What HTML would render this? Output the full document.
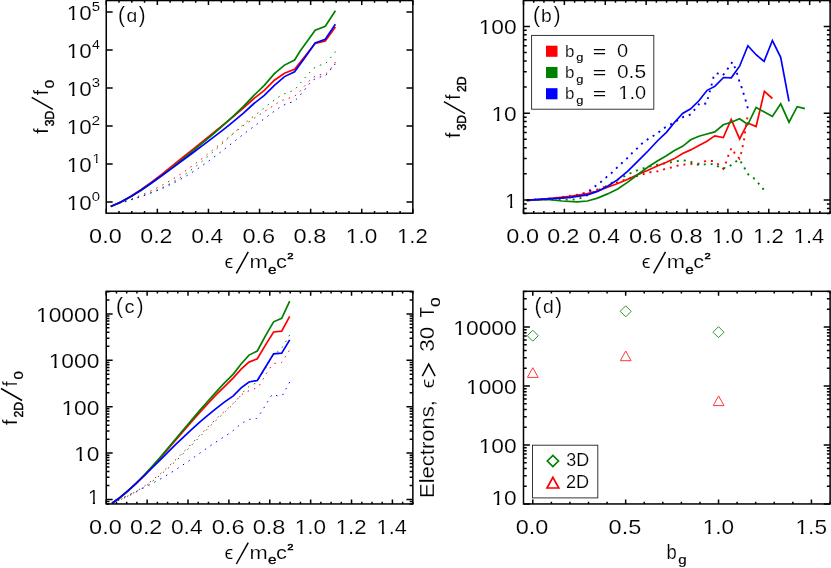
<!DOCTYPE html>
<html><head><meta charset="utf-8"><title>plot</title>
<style>html,body{margin:0;padding:0;background:#fff}svg{display:block;will-change:transform}text{font-family:"Liberation Sans", sans-serif;fill:#000}</style></head><body>
<svg width="831" height="568" viewBox="0 0 831 568">
<rect width="831" height="568" fill="#fff"/>
<g id="pa">
<polyline points="111,206.3 121.33,202.7 131.66,198.99 141.99,194.9 152.31,190.28 162.64,185.01 172.97,179.03 183.3,172.33 193.63,164.98 203.96,157.09 214.29,148.81 224.61,140.39 234.94,132.1 245.27,124.27 255.6,117.3 267.1,109.8 278.7,102.2 285.2,99 292.4,97.3 297.9,93.9 307.1,83.1 312.3,78 318,74.7 324.8,74.7 329.6,70.3 334.4,63.5 335.4,62" fill="none" stroke="#ff0000" stroke-width="1" stroke-dasharray="1.5 5.2" stroke-linejoin="miter" stroke-linecap="butt" stroke-dashoffset="4.92"/>
<polyline points="111,206.3 120.88,202.82 130.76,199.65 140.64,196.4 150.52,192.77 160.4,188.52 170.28,183.49 180.16,177.58 190.04,170.79 199.92,163.17 209.8,154.84 219.68,146 229.56,136.92 239.44,127.94 249.32,119.49 259.2,112 270,103.3 281.6,94.9 294.6,89.9 304,78.8 313.4,68.4 319.1,65.5 325.7,63.5 330,58.5 334.7,52.7 335.4,51.5" fill="none" stroke="#008000" stroke-width="1" stroke-dasharray="1.5 5.2" stroke-linejoin="miter" stroke-linecap="butt" stroke-dashoffset="5.53"/>
<polyline points="111,206.3 121.54,202.85 132.07,199.54 142.61,196.07 153.14,192.22 163.68,187.81 174.21,182.72 184.75,176.91 195.29,170.37 205.82,163.15 216.36,155.38 226.89,147.23 237.43,138.93 247.96,130.77 258.5,123.1 269.3,114.9 280.9,106.5 287.4,103.3 293.9,101.6 298.9,96.8 307.6,86 312.6,80.2 318.4,77.3 325.3,76.1 329.6,70.8 334.4,65 335.4,63.8" fill="none" stroke="#0000ff" stroke-width="1" stroke-dasharray="1.5 5.2" stroke-linejoin="miter" stroke-linecap="butt" stroke-dashoffset="5.55"/>
<polyline points="110.7,206.5 120.89,202.06 131.09,196.3 141.28,189.56 151.47,182.15 161.66,174.3 171.86,166.2 182.05,158.01 192.24,149.8 202.44,141.63 212.63,133.47 222.82,125.27 233.01,116.91 243.21,108.23 253.4,99 264.3,90.3 274.4,80.2 284.5,73.3 294.6,69.4 305,56.3 315.2,43.3 325.3,40.9 335.4,27.1" fill="none" stroke="#ff0000" stroke-width="1.7" stroke-linejoin="miter" stroke-linecap="butt"/>
<polyline points="110.7,206.5 120.89,202.15 131.09,196.64 141.28,190.23 151.47,183.18 161.66,175.66 171.86,167.82 182.05,159.75 192.24,151.52 202.44,143.13 212.63,134.54 222.82,125.67 233.01,116.39 243.21,106.54 253.4,95.9 264.3,85.3 274.4,73.7 284.5,65.1 294.6,60 300,51.3 315.2,30.3 325.3,26.3 335.4,10.8" fill="none" stroke="#008000" stroke-width="1.7" stroke-linejoin="miter" stroke-linecap="butt"/>
<polyline points="110.7,206.5 120.89,201.93 131.09,196.31 141.28,189.93 151.47,183.01 161.66,175.77 171.86,168.33 182.05,160.8 192.24,153.22 202.44,145.61 212.63,137.93 222.82,130.08 233.01,121.93 243.21,113.31 253.4,104 264.3,95.4 274.4,85.3 284.5,76.6 294.6,71.8 305,57.5 315.2,43 325.3,39.3 335.4,24.3" fill="none" stroke="#0000ff" stroke-width="1.7" stroke-linejoin="miter" stroke-linecap="butt"/>
<rect x="106.25" y="0.55" width="306.6" height="212.65" fill="none" stroke="#000" stroke-width="1.5"/>
<path d="M106.25 213.2v-4.4M106.25 0.55v4.4M157.35 213.2v-4.4M157.35 0.55v4.4M208.45 213.2v-4.4M208.45 0.55v4.4M259.55 213.2v-4.4M259.55 0.55v4.4M310.65 213.2v-4.4M310.65 0.55v4.4M361.75 213.2v-4.4M361.75 0.55v4.4M412.85 213.2v-4.4M412.85 0.55v4.4" stroke="#000" stroke-width="1.5" fill="none"/>
<path d="M119.03 213.2v-2.3M119.03 0.55v2.3M131.8 213.2v-2.3M131.8 0.55v2.3M144.57 213.2v-2.3M144.57 0.55v2.3M170.12 213.2v-2.3M170.12 0.55v2.3M182.9 213.2v-2.3M182.9 0.55v2.3M195.68 213.2v-2.3M195.68 0.55v2.3M221.23 213.2v-2.3M221.23 0.55v2.3M234 213.2v-2.3M234 0.55v2.3M246.78 213.2v-2.3M246.78 0.55v2.3M272.33 213.2v-2.3M272.33 0.55v2.3M285.1 213.2v-2.3M285.1 0.55v2.3M297.88 213.2v-2.3M297.88 0.55v2.3M323.43 213.2v-2.3M323.43 0.55v2.3M336.2 213.2v-2.3M336.2 0.55v2.3M348.98 213.2v-2.3M348.98 0.55v2.3M374.53 213.2v-2.3M374.53 0.55v2.3M387.3 213.2v-2.3M387.3 0.55v2.3M400.08 213.2v-2.3M400.08 0.55v2.3" stroke="#000" stroke-width="1.5" fill="none"/>
<path d="M106.25 202h6.4M412.85 202h-6.4M106.25 164.02h6.4M412.85 164.02h-6.4M106.25 126.04h6.4M412.85 126.04h-6.4M106.25 88.06h6.4M412.85 88.06h-6.4M106.25 50.08h6.4M412.85 50.08h-6.4M106.25 12.1h6.4M412.85 12.1h-6.4" stroke="#000" stroke-width="1.5" fill="none"/>
<text x="89.13" y="243.3" font-size="20" textLength="32.63" lengthAdjust="spacingAndGlyphs" stroke="#fff" stroke-width="0.16">0.0</text>
<text x="140.24" y="243.3" font-size="20" textLength="32.27" lengthAdjust="spacingAndGlyphs" stroke="#fff" stroke-width="0.16">0.2</text>
<text x="191.36" y="243.3" font-size="20" textLength="31.76" lengthAdjust="spacingAndGlyphs" stroke="#fff" stroke-width="0.16">0.4</text>
<text x="242.43" y="243.3" font-size="20" textLength="32.76" lengthAdjust="spacingAndGlyphs" stroke="#fff" stroke-width="0.16">0.6</text>
<text x="293.53" y="243.3" font-size="20" textLength="32.74" lengthAdjust="spacingAndGlyphs" stroke="#fff" stroke-width="0.16">0.8</text>
<clipPath id="k1"><rect x="345.88" y="227.68" width="12.54" height="12.99"/><rect x="351.33" y="240.37" width="2.44" height="3.93"/></clipPath>
<text x="345.88" y="243.3" font-size="20" textLength="12.54" lengthAdjust="spacingAndGlyphs" stroke="#fff" stroke-width="0.16" clip-path="url(#k1)">1</text>
<text x="358.42" y="243.3" font-size="20" textLength="18.81" lengthAdjust="spacingAndGlyphs" stroke="#fff" stroke-width="0.16">.0</text>
<clipPath id="k2"><rect x="397.02" y="227.68" width="12.3" height="12.99"/><rect x="402.37" y="240.37" width="2.4" height="3.93"/></clipPath>
<text x="397.02" y="243.3" font-size="20" textLength="12.3" lengthAdjust="spacingAndGlyphs" stroke="#fff" stroke-width="0.16" clip-path="url(#k2)">1</text>
<text x="409.32" y="243.3" font-size="20" textLength="18.44" lengthAdjust="spacingAndGlyphs" stroke="#fff" stroke-width="0.16">.2</text>
<clipPath id="k3"><rect x="66.75" y="194.47" width="12.41" height="12.99"/><rect x="72.15" y="207.17" width="2.42" height="3.93"/></clipPath>
<text x="66.75" y="210.1" font-size="20" textLength="12.41" lengthAdjust="spacingAndGlyphs" stroke="#fff" stroke-width="0.16" clip-path="url(#k3)">1</text>
<text x="79.16" y="210.1" font-size="20" textLength="12.41" lengthAdjust="spacingAndGlyphs" stroke="#fff" stroke-width="0.16">0</text>
<text x="91.72" y="200.6" font-size="13.4" textLength="8.26" lengthAdjust="spacingAndGlyphs" stroke="#fff" stroke-width="0.08">0</text>
<clipPath id="k4"><rect x="66.75" y="156.5" width="12.41" height="12.99"/><rect x="72.15" y="169.19" width="2.42" height="3.93"/></clipPath>
<text x="66.75" y="172.12" font-size="20" textLength="12.41" lengthAdjust="spacingAndGlyphs" stroke="#fff" stroke-width="0.16" clip-path="url(#k4)">1</text>
<text x="79.16" y="172.12" font-size="20" textLength="12.41" lengthAdjust="spacingAndGlyphs" stroke="#fff" stroke-width="0.16">0</text>
<clipPath id="k5"><rect x="92.52" y="152.15" width="7.99" height="8.7"/><rect x="95.99" y="160.66" width="1.56" height="2.96"/></clipPath>
<text x="92.52" y="162.62" font-size="13.4" textLength="7.99" lengthAdjust="spacingAndGlyphs" stroke="#fff" stroke-width="0.08" clip-path="url(#k5)">1</text>
<clipPath id="k6"><rect x="66.75" y="118.52" width="12.41" height="12.99"/><rect x="72.15" y="131.21" width="2.42" height="3.93"/></clipPath>
<text x="66.75" y="134.14" font-size="20" textLength="12.41" lengthAdjust="spacingAndGlyphs" stroke="#fff" stroke-width="0.16" clip-path="url(#k6)">1</text>
<text x="79.16" y="134.14" font-size="20" textLength="12.41" lengthAdjust="spacingAndGlyphs" stroke="#fff" stroke-width="0.16">0</text>
<text x="91.52" y="124.64" font-size="13.4" textLength="8.67" lengthAdjust="spacingAndGlyphs" stroke="#fff" stroke-width="0.08">2</text>
<clipPath id="k7"><rect x="66.75" y="80.53" width="12.41" height="12.99"/><rect x="72.15" y="93.23" width="2.42" height="3.93"/></clipPath>
<text x="66.75" y="96.16" font-size="20" textLength="12.41" lengthAdjust="spacingAndGlyphs" stroke="#fff" stroke-width="0.16" clip-path="url(#k7)">1</text>
<text x="79.16" y="96.16" font-size="20" textLength="12.41" lengthAdjust="spacingAndGlyphs" stroke="#fff" stroke-width="0.16">0</text>
<text x="91.73" y="86.66" font-size="13.4" textLength="8.33" lengthAdjust="spacingAndGlyphs" stroke="#fff" stroke-width="0.08">3</text>
<clipPath id="k8"><rect x="66.75" y="42.56" width="12.41" height="12.99"/><rect x="72.15" y="55.25" width="2.42" height="3.93"/></clipPath>
<text x="66.75" y="58.18" font-size="20" textLength="12.41" lengthAdjust="spacingAndGlyphs" stroke="#fff" stroke-width="0.16" clip-path="url(#k8)">1</text>
<text x="79.16" y="58.18" font-size="20" textLength="12.41" lengthAdjust="spacingAndGlyphs" stroke="#fff" stroke-width="0.16">0</text>
<text x="91.98" y="48.68" font-size="13.4" textLength="7.84" lengthAdjust="spacingAndGlyphs" stroke="#fff" stroke-width="0.08">4</text>
<clipPath id="k9"><rect x="66.75" y="4.58" width="12.41" height="12.99"/><rect x="72.15" y="17.27" width="2.42" height="3.93"/></clipPath>
<text x="66.75" y="20.2" font-size="20" textLength="12.41" lengthAdjust="spacingAndGlyphs" stroke="#fff" stroke-width="0.16" clip-path="url(#k9)">1</text>
<text x="79.16" y="20.2" font-size="20" textLength="12.41" lengthAdjust="spacingAndGlyphs" stroke="#fff" stroke-width="0.16">0</text>
<text x="91.7" y="10.7" font-size="13.4" textLength="8.33" lengthAdjust="spacingAndGlyphs" stroke="#fff" stroke-width="0.08">5</text>
<text x="118.11" y="22.4" font-size="21.4" textLength="6.91" lengthAdjust="spacingAndGlyphs" stroke="#fff" stroke-width="0.16">(</text>
<text x="126.49" y="22.4" font-size="17.6" textLength="10.76" lengthAdjust="spacingAndGlyphs" stroke="#fff" stroke-width="0.16">&#x251;</text>
<text x="138.68" y="22.4" font-size="21.4" textLength="6.78" lengthAdjust="spacingAndGlyphs" stroke="#fff" stroke-width="0.16">)</text>
<text x="224.52" y="268.3" font-size="18.6" textLength="8.81" lengthAdjust="spacingAndGlyphs" stroke="#fff" stroke-width="0.16">&#x3f5;</text>
<line x1="236.35" y1="273.3" x2="248.25" y2="251.9" stroke="#000" stroke-width="1.5"/>
<text x="249.5" y="268.3" font-size="18" textLength="18.19" lengthAdjust="spacingAndGlyphs" stroke="#fff" stroke-width="0.16">m</text>
<text x="267.9" y="273.6" font-size="12.6" textLength="8.53" lengthAdjust="spacingAndGlyphs" stroke="#000" stroke-width="0.3">e</text>
<text x="276.02" y="268.3" font-size="18" textLength="10.9" lengthAdjust="spacingAndGlyphs" stroke="#fff" stroke-width="0.16">c</text>
<text x="287.39" y="258.9" font-size="9.8" textLength="6.23" lengthAdjust="spacingAndGlyphs" stroke="#000" stroke-width="0.5">2</text>
<g transform="translate(47.8 133.5) rotate(-90)">
<text x="-0.28" y="0" font-size="19.8" textLength="5.55" lengthAdjust="spacingAndGlyphs" stroke="#fff" stroke-width="0.16">f</text>
<text x="7.34" y="5.9" font-size="13.2" textLength="15.44" lengthAdjust="spacingAndGlyphs" stroke="#000" stroke-width="0.45">3D</text>
<line x1="24.2" y1="5" x2="36.2" y2="-16.1" stroke="#000" stroke-width="1.5"/>
<text x="38.13" y="0" font-size="19.8" textLength="5.34" lengthAdjust="spacingAndGlyphs" stroke="#fff" stroke-width="0.16">f</text>
<text x="45.21" y="5.9" font-size="13.2" textLength="8.38" lengthAdjust="spacingAndGlyphs" stroke="#000" stroke-width="0.3">0</text>
</g>
</g>
<g id="pb">
<polyline points="526.7,200.6 553.7,198.1 577.3,194.8 597.5,189.4 617.7,182.1 624.4,179.9 631.2,177.9 644.7,173.7 651.4,172 658.1,171.2 664.7,169.1 671.8,167.3 678.7,165.4 685.5,164.4 692.4,163.9 699.4,163.6 706.1,160.8 712.9,161 718.5,164.4 723.3,168.8 726.2,161.8 728.6,154.8 731.5,147.9 735.5,154.4 739.4,158.7 741.3,152.2 742.8,145.7 744.2,138.5 745.2,131.3 746.4,124 747.4,117.5" fill="none" stroke="#ff0000" stroke-width="1.9" stroke-dasharray="2 5" stroke-linejoin="miter" stroke-linecap="butt" stroke-dashoffset="6.48"/>
<polyline points="526.7,200.1 547,199.5 563,199.3 570.5,199.8 577.3,199 584,196.9 593,192.5 603.4,187.7 609.3,184.1 618,179.5 627.8,174.5 634.6,171.2 641.3,169 648,167 654.8,165.3 667.9,162.9 675.1,161.5 682.3,160.3 689.2,161 695.6,164.4 701.8,165.1 708.3,163.6 715.3,164.4 721.1,168.5 726.9,167.8 732.9,164 738.4,159.4 742,163.3 745.2,169.2 748.8,175.3 754.8,178.9 759.4,184.4 763.7,189.7" fill="none" stroke="#008000" stroke-width="1.9" stroke-dasharray="2 5" stroke-linejoin="miter" stroke-linecap="butt" stroke-dashoffset="3.06"/>
<polyline points="526.7,200.1 553.7,198.6 570.5,197.3 584,193.6 589.9,190.2 595.8,185.8 601.7,181.3 607.6,176.2 612.7,172 617.7,167 622.8,162.2 627.8,157.7 632,153.1 637.1,148.4 642.1,143.4 648.1,139.1 653.9,135.5 659.6,131.6 665.3,127.3 671.5,123.9 683.8,116.7 690.7,114.5 695.3,108.8 699.6,103.3 706.4,103.7 708.3,96.9 710.8,87.9 713.6,77 716.5,73.1 722.6,75.6 726.6,70.5 732.4,61.9 735.3,68.4 737.5,74.9 739.6,82.1 742.1,88.6 744,95.1 746.1,102 747.8,108.2" fill="none" stroke="#0000ff" stroke-width="1.9" stroke-dasharray="2 5" stroke-linejoin="miter" stroke-linecap="butt" stroke-dashoffset="6.32"/>
<polyline points="526.7,200.6 553.7,198.1 570.5,196.4 587.4,193.6 597.5,191 607.6,187.2 617.7,183.5 627.8,179.3 637.9,174.5 648,170.3 657.8,165.8 666.4,162.2 674.4,158.6 682.6,153.5 690.7,149.9 698.9,145.6 706.9,141.3 714.8,135.9 723.3,137.5 731.2,119.3 739.6,138.9 747.8,123 756.1,126.5 764.4,91.3 772.4,98.5" fill="none" stroke="#ff0000" stroke-width="1.7" stroke-linejoin="miter" stroke-linecap="butt"/>
<polyline points="526.7,200.1 547,199.5 562.1,201 577.3,201.8 587.4,201 597.5,198.1 607.6,193.9 617.7,188.9 627.8,182.1 637.9,174.5 648,167 657.8,160.8 666.4,155.7 674.4,150.6 682.6,146.3 690.7,139.8 698.9,136.2 706.9,134 714.8,131.9 723.3,124.8 731.2,122.2 739.6,118.7 747.8,124.5 756.1,107.4 764.4,112.1 772.4,116.4 780.7,103.8 789,122.2 797.2,106.7 804.9,108.6" fill="none" stroke="#008000" stroke-width="1.7" stroke-linejoin="miter" stroke-linecap="butt"/>
<polyline points="526.7,200.1 553.7,198.6 570.5,197.3 587.4,194.8 597.5,191.4 607.6,186.3 617.7,179.6 627.8,171.2 637.9,161.1 648,151 657.8,140.5 666.4,132.3 674.4,122.5 682.6,113.4 690.7,108.8 698.9,100.8 707.1,90.3 714.8,86.4 723.5,77.5 731.3,77.8 739.6,66.2 747.9,45.7 756.1,54.7 764.1,61.4 772.4,40.5 780.7,57.3 789,101.4" fill="none" stroke="#0000ff" stroke-width="1.7" stroke-linejoin="miter" stroke-linecap="butt"/>
<rect x="523.5" y="0.55" width="306.6" height="212.65" fill="none" stroke="#000" stroke-width="1.5"/>
<path d="M523.5 213.2v-4.4M523.5 0.55v4.4M564.38 213.2v-4.4M564.38 0.55v4.4M605.26 213.2v-4.4M605.26 0.55v4.4M646.14 213.2v-4.4M646.14 0.55v4.4M687.02 213.2v-4.4M687.02 0.55v4.4M727.9 213.2v-4.4M727.9 0.55v4.4M768.78 213.2v-4.4M768.78 0.55v4.4M809.66 213.2v-4.4M809.66 0.55v4.4" stroke="#000" stroke-width="1.5" fill="none"/>
<path d="M533.72 213.2v-2.3M533.72 0.55v2.3M543.94 213.2v-2.3M543.94 0.55v2.3M554.16 213.2v-2.3M554.16 0.55v2.3M574.6 213.2v-2.3M574.6 0.55v2.3M584.82 213.2v-2.3M584.82 0.55v2.3M595.04 213.2v-2.3M595.04 0.55v2.3M615.48 213.2v-2.3M615.48 0.55v2.3M625.7 213.2v-2.3M625.7 0.55v2.3M635.92 213.2v-2.3M635.92 0.55v2.3M656.36 213.2v-2.3M656.36 0.55v2.3M666.58 213.2v-2.3M666.58 0.55v2.3M676.8 213.2v-2.3M676.8 0.55v2.3M697.24 213.2v-2.3M697.24 0.55v2.3M707.46 213.2v-2.3M707.46 0.55v2.3M717.68 213.2v-2.3M717.68 0.55v2.3M738.12 213.2v-2.3M738.12 0.55v2.3M748.34 213.2v-2.3M748.34 0.55v2.3M758.56 213.2v-2.3M758.56 0.55v2.3M779 213.2v-2.3M779 0.55v2.3M789.22 213.2v-2.3M789.22 0.55v2.3M799.44 213.2v-2.3M799.44 0.55v2.3M819.88 213.2v-2.3M819.88 0.55v2.3M830.1 213.2v-2.3M830.1 0.55v2.3" stroke="#000" stroke-width="1.5" fill="none"/>
<path d="M523.5 200h6.4M830.1 200h-6.4M523.5 113.2h6.4M830.1 113.2h-6.4M523.5 26.4h6.4M830.1 26.4h-6.4" stroke="#000" stroke-width="1.5" fill="none"/>
<path d="M523.5 213.45h3.2M830.1 213.45h-3.2M523.5 208.41h3.2M830.1 208.41h-3.2M523.5 203.97h3.2M830.1 203.97h-3.2M523.5 173.87h3.2M830.1 173.87h-3.2M523.5 158.59h3.2M830.1 158.59h-3.2M523.5 147.74h3.2M830.1 147.74h-3.2M523.5 139.33h3.2M830.1 139.33h-3.2M523.5 132.46h3.2M830.1 132.46h-3.2M523.5 126.65h3.2M830.1 126.65h-3.2M523.5 121.61h3.2M830.1 121.61h-3.2M523.5 117.17h3.2M830.1 117.17h-3.2M523.5 87.07h3.2M830.1 87.07h-3.2M523.5 71.79h3.2M830.1 71.79h-3.2M523.5 60.94h3.2M830.1 60.94h-3.2M523.5 52.53h3.2M830.1 52.53h-3.2M523.5 45.66h3.2M830.1 45.66h-3.2M523.5 39.85h3.2M830.1 39.85h-3.2M523.5 34.81h3.2M830.1 34.81h-3.2M523.5 30.37h3.2M830.1 30.37h-3.2M523.5 0.27h3.2M830.1 0.27h-3.2" stroke="#000" stroke-width="1.5" fill="none"/>
<text x="506.38" y="243.3" font-size="20" textLength="32.63" lengthAdjust="spacingAndGlyphs" stroke="#fff" stroke-width="0.16">0.0</text>
<text x="547.27" y="243.3" font-size="20" textLength="32.27" lengthAdjust="spacingAndGlyphs" stroke="#fff" stroke-width="0.16">0.2</text>
<text x="588.17" y="243.3" font-size="20" textLength="31.76" lengthAdjust="spacingAndGlyphs" stroke="#fff" stroke-width="0.16">0.4</text>
<text x="629.02" y="243.3" font-size="20" textLength="32.76" lengthAdjust="spacingAndGlyphs" stroke="#fff" stroke-width="0.16">0.6</text>
<text x="669.9" y="243.3" font-size="20" textLength="32.74" lengthAdjust="spacingAndGlyphs" stroke="#fff" stroke-width="0.16">0.8</text>
<clipPath id="k10"><rect x="712.03" y="227.68" width="12.54" height="12.99"/><rect x="717.48" y="240.37" width="2.44" height="3.93"/></clipPath>
<text x="712.03" y="243.3" font-size="20" textLength="12.54" lengthAdjust="spacingAndGlyphs" stroke="#fff" stroke-width="0.16" clip-path="url(#k10)">1</text>
<text x="724.57" y="243.3" font-size="20" textLength="18.81" lengthAdjust="spacingAndGlyphs" stroke="#fff" stroke-width="0.16">.0</text>
<clipPath id="k11"><rect x="752.95" y="227.68" width="12.3" height="12.99"/><rect x="758.3" y="240.37" width="2.4" height="3.93"/></clipPath>
<text x="752.95" y="243.3" font-size="20" textLength="12.3" lengthAdjust="spacingAndGlyphs" stroke="#fff" stroke-width="0.16" clip-path="url(#k11)">1</text>
<text x="765.25" y="243.3" font-size="20" textLength="18.44" lengthAdjust="spacingAndGlyphs" stroke="#fff" stroke-width="0.16">.2</text>
<clipPath id="k12"><rect x="793.87" y="227.68" width="12.09" height="12.99"/><rect x="799.12" y="240.37" width="2.36" height="3.93"/></clipPath>
<text x="793.87" y="243.3" font-size="20" textLength="12.09" lengthAdjust="spacingAndGlyphs" stroke="#fff" stroke-width="0.16" clip-path="url(#k12)">1</text>
<text x="805.96" y="243.3" font-size="20" textLength="18.14" lengthAdjust="spacingAndGlyphs" stroke="#fff" stroke-width="0.16">.4</text>
<clipPath id="k13"><rect x="478.71" y="18.78" width="12.66" height="12.99"/><rect x="484.21" y="31.47" width="2.47" height="3.93"/></clipPath>
<text x="478.71" y="34.4" font-size="20" textLength="12.66" lengthAdjust="spacingAndGlyphs" stroke="#fff" stroke-width="0.16" clip-path="url(#k13)">1</text>
<text x="491.37" y="34.4" font-size="20" textLength="25.32" lengthAdjust="spacingAndGlyphs" stroke="#fff" stroke-width="0.16">00</text>
<clipPath id="k14"><rect x="491.41" y="105.58" width="12.64" height="12.99"/><rect x="496.91" y="118.27" width="2.46" height="3.93"/></clipPath>
<text x="491.41" y="121.2" font-size="20" textLength="12.64" lengthAdjust="spacingAndGlyphs" stroke="#fff" stroke-width="0.16" clip-path="url(#k14)">1</text>
<text x="504.05" y="121.2" font-size="20" textLength="12.64" lengthAdjust="spacingAndGlyphs" stroke="#fff" stroke-width="0.16">0</text>
<clipPath id="k15"><rect x="505.27" y="192.18" width="11.18" height="12.99"/><rect x="510.13" y="204.87" width="2.18" height="3.93"/></clipPath>
<text x="505.27" y="207.8" font-size="20" textLength="11.18" lengthAdjust="spacingAndGlyphs" stroke="#fff" stroke-width="0.16" clip-path="url(#k15)">1</text>
<text x="533.11" y="22.4" font-size="21.4" textLength="6.91" lengthAdjust="spacingAndGlyphs" stroke="#fff" stroke-width="0.16">(</text>
<text x="541.05" y="22.4" font-size="17.6" textLength="10.76" lengthAdjust="spacingAndGlyphs" stroke="#fff" stroke-width="0.16">b</text>
<text x="553.68" y="22.4" font-size="21.4" textLength="6.78" lengthAdjust="spacingAndGlyphs" stroke="#fff" stroke-width="0.16">)</text>
<text x="641.77" y="268.3" font-size="18.6" textLength="8.81" lengthAdjust="spacingAndGlyphs" stroke="#fff" stroke-width="0.16">&#x3f5;</text>
<line x1="653.6" y1="273.3" x2="665.5" y2="251.9" stroke="#000" stroke-width="1.5"/>
<text x="666.75" y="268.3" font-size="18" textLength="18.19" lengthAdjust="spacingAndGlyphs" stroke="#fff" stroke-width="0.16">m</text>
<text x="685.15" y="273.6" font-size="12.6" textLength="8.53" lengthAdjust="spacingAndGlyphs" stroke="#000" stroke-width="0.3">e</text>
<text x="693.27" y="268.3" font-size="18" textLength="10.9" lengthAdjust="spacingAndGlyphs" stroke="#fff" stroke-width="0.16">c</text>
<text x="704.64" y="258.9" font-size="9.8" textLength="6.23" lengthAdjust="spacingAndGlyphs" stroke="#000" stroke-width="0.5">2</text>
<g transform="translate(460 137.8) rotate(-90)">
<text x="-0.28" y="0" font-size="19.8" textLength="5.55" lengthAdjust="spacingAndGlyphs" stroke="#fff" stroke-width="0.16">f</text>
<text x="7.34" y="5.9" font-size="13.2" textLength="15.44" lengthAdjust="spacingAndGlyphs" stroke="#000" stroke-width="0.45">3D</text>
<line x1="24.2" y1="5" x2="36.2" y2="-16.1" stroke="#000" stroke-width="1.5"/>
<text x="38.13" y="0" font-size="19.8" textLength="5.34" lengthAdjust="spacingAndGlyphs" stroke="#fff" stroke-width="0.16">f</text>
<text x="45.69" y="5.9" font-size="13.2" textLength="15.49" lengthAdjust="spacingAndGlyphs" stroke="#000" stroke-width="0.45">2D</text>
</g>
<rect x="531.6" y="35.4" width="122.2" height="73.8" fill="#fff" stroke="#222" stroke-width="0.9"/>
<rect x="546" y="45.7" width="11.5" height="11.1" fill="#ff0000"/>
<text x="565.01" y="56.8" font-size="17.2" textLength="9.4" lengthAdjust="spacingAndGlyphs" stroke="#fff" stroke-width="0.16">b</text>
<text x="576.26" y="61.4" font-size="11.6" textLength="7.17" lengthAdjust="spacingAndGlyphs" stroke="#000" stroke-width="0.12">g</text>
<text x="592.87" y="56.6" font-size="16.5" textLength="13.46" lengthAdjust="spacingAndGlyphs" stroke="#fff" stroke-width="0.08">=</text>
<text x="617.02" y="56.8" font-size="17.6" textLength="11.17" lengthAdjust="spacingAndGlyphs" stroke="#fff" stroke-width="0.16">0</text>
<rect x="546" y="66.95" width="11.5" height="11.1" fill="#008000"/>
<text x="565.01" y="78.05" font-size="17.2" textLength="9.4" lengthAdjust="spacingAndGlyphs" stroke="#fff" stroke-width="0.16">b</text>
<text x="576.26" y="82.65" font-size="11.6" textLength="7.17" lengthAdjust="spacingAndGlyphs" stroke="#000" stroke-width="0.12">g</text>
<text x="592.87" y="77.85" font-size="16.5" textLength="13.46" lengthAdjust="spacingAndGlyphs" stroke="#fff" stroke-width="0.08">=</text>
<text x="616.98" y="78.05" font-size="17.6" textLength="29.1" lengthAdjust="spacingAndGlyphs" stroke="#fff" stroke-width="0.16">0.5</text>
<rect x="546" y="88.2" width="11.5" height="11.1" fill="#0000ff"/>
<text x="565.01" y="99.3" font-size="17.2" textLength="9.4" lengthAdjust="spacingAndGlyphs" stroke="#fff" stroke-width="0.16">b</text>
<text x="576.26" y="103.9" font-size="11.6" textLength="7.17" lengthAdjust="spacingAndGlyphs" stroke="#000" stroke-width="0.12">g</text>
<text x="592.87" y="99.1" font-size="16.5" textLength="13.46" lengthAdjust="spacingAndGlyphs" stroke="#fff" stroke-width="0.08">=</text>
<clipPath id="k16"><rect x="618.38" y="85.55" width="11.12" height="11.43"/><rect x="623.21" y="96.72" width="2.17" height="3.58"/></clipPath>
<text x="618.38" y="99.3" font-size="17.6" textLength="11.12" lengthAdjust="spacingAndGlyphs" stroke="#fff" stroke-width="0.16" clip-path="url(#k16)">1</text>
<text x="629.5" y="99.3" font-size="17.6" textLength="16.68" lengthAdjust="spacingAndGlyphs" stroke="#fff" stroke-width="0.16">.0</text>
</g>
<g id="pc">
<clipPath id="clipc"><rect x="106.25" y="291.3" width="306.6" height="212.65"/></clipPath>
<g clip-path="url(#clipc)">
<polyline points="112,503 120.13,499.74 128.26,495.86 136.39,491.28 144.51,485.98 152.64,479.98 160.77,473.32 168.9,466.08 177.03,458.34 185.16,450.24 193.29,441.91 201.41,433.54 209.54,425.31 217.67,417.47 225.8,410.2 230.9,405.5 235.9,400.9 240.3,395.5 246.2,391.8 253.3,389.4 258.8,386.3 262.5,380.2 266.2,373.7 269.9,368 274,363.4 281.4,362.7 285.4,356.6 289.3,350.5" fill="none" stroke="#ff0000" stroke-width="1" stroke-dasharray="1.5 5.2" stroke-linejoin="miter" stroke-linecap="butt" stroke-dashoffset="3.63"/>
<polyline points="112,503 120.14,499.88 128.29,496.21 136.43,491.86 144.57,486.8 152.71,481.02 160.86,474.55 169,467.44 177.14,459.78 185.29,451.7 193.43,443.34 201.57,434.88 209.71,426.55 217.86,418.58 226,411.2 231,406.3 235.5,401.5 240.3,396 244.9,390 249.9,385.7 256.4,382.9 265.7,368 273.6,354.5 280.8,349.6 284.7,343.6 288.4,337.2 289.7,335" fill="none" stroke="#008000" stroke-width="1" stroke-dasharray="1.5 5.2" stroke-linejoin="miter" stroke-linecap="butt" stroke-dashoffset="0.51"/>
<polyline points="112,503 120.2,499 128.4,495.16 136.6,491.3 144.8,487.3 153,483.06 161.2,478.51 169.4,473.64 177.6,468.45 185.8,462.97 194,457.29 202.2,451.5 210.4,445.76 218.6,440.23 226.8,435.1 232.7,431 237.9,426.4 243.5,422.3 249.6,419.4 256.4,418.5 260.7,412.9 264.7,406.6 268.4,400.5 272.1,394.4 277.7,395.9 282.7,395 286,388.9 289.7,382" fill="none" stroke="#0000ff" stroke-width="1" stroke-dasharray="1.5 5.2" stroke-linejoin="miter" stroke-linecap="butt" stroke-dashoffset="6.52"/>
<polyline points="112,503.2 120,497.48 128,490.89 136,483.54 144,475.56 152,467.08 160,458.2 168,449.06 176,439.76 184,430.42 192,421.16 200,412.09 208,403.32 216,394.96 224,387.1 233.3,377.8 241.1,369.2 249,362.1 257.3,358.8 265.7,344.6 273.6,332 281.7,331.1 289.7,316.4" fill="none" stroke="#ff0000" stroke-width="1.7" stroke-linejoin="miter" stroke-linecap="butt"/>
<polyline points="112,503.2 120,497.75 128,491.18 136,483.67 144,475.43 152,466.63 160,457.46 168,448.03 176,438.49 184,428.93 192,419.45 200,410.12 208,400.98 216,392.08 224,383.4 233.3,374.1 241.1,364 249,355.1 257.3,351 265.7,335.3 273.6,321.8 281.7,318.3 289.7,301.1" fill="none" stroke="#008000" stroke-width="1.7" stroke-linejoin="miter" stroke-linecap="butt"/>
<polyline points="112,503.2 120,497.32 128,490.68 136,483.47 144,475.86 152,468 160,460.03 168,452.07 176,444.21 184,436.54 192,429.11 200,421.97 208,415.14 216,408.63 224,402.4 233.3,395.9 241.1,387.9 249,382 257.3,380.5 265.7,366.8 273.6,353.8 281.7,353.2 289.7,339.9" fill="none" stroke="#0000ff" stroke-width="1.7" stroke-linejoin="miter" stroke-linecap="butt"/>
</g>
<rect x="106.25" y="291.3" width="306.6" height="212.65" fill="none" stroke="#000" stroke-width="1.5"/>
<path d="M106.25 503.95v-4.4M106.25 291.3v4.4M147.13 503.95v-4.4M147.13 291.3v4.4M188.01 503.95v-4.4M188.01 291.3v4.4M228.89 503.95v-4.4M228.89 291.3v4.4M269.77 503.95v-4.4M269.77 291.3v4.4M310.65 503.95v-4.4M310.65 291.3v4.4M351.53 503.95v-4.4M351.53 291.3v4.4M392.41 503.95v-4.4M392.41 291.3v4.4" stroke="#000" stroke-width="1.5" fill="none"/>
<path d="M116.47 503.95v-2.3M116.47 291.3v2.3M126.69 503.95v-2.3M126.69 291.3v2.3M136.91 503.95v-2.3M136.91 291.3v2.3M157.35 503.95v-2.3M157.35 291.3v2.3M167.57 503.95v-2.3M167.57 291.3v2.3M177.79 503.95v-2.3M177.79 291.3v2.3M198.23 503.95v-2.3M198.23 291.3v2.3M208.45 503.95v-2.3M208.45 291.3v2.3M218.67 503.95v-2.3M218.67 291.3v2.3M239.11 503.95v-2.3M239.11 291.3v2.3M249.33 503.95v-2.3M249.33 291.3v2.3M259.55 503.95v-2.3M259.55 291.3v2.3M279.99 503.95v-2.3M279.99 291.3v2.3M290.21 503.95v-2.3M290.21 291.3v2.3M300.43 503.95v-2.3M300.43 291.3v2.3M320.87 503.95v-2.3M320.87 291.3v2.3M331.09 503.95v-2.3M331.09 291.3v2.3M341.31 503.95v-2.3M341.31 291.3v2.3M361.75 503.95v-2.3M361.75 291.3v2.3M371.97 503.95v-2.3M371.97 291.3v2.3M382.19 503.95v-2.3M382.19 291.3v2.3M402.63 503.95v-2.3M402.63 291.3v2.3M412.85 503.95v-2.3M412.85 291.3v2.3" stroke="#000" stroke-width="1.5" fill="none"/>
<path d="M106.25 499.5h6.4M412.85 499.5h-6.4M106.25 453.1h6.4M412.85 453.1h-6.4M106.25 406.7h6.4M412.85 406.7h-6.4M106.25 360.3h6.4M412.85 360.3h-6.4M106.25 313.9h6.4M412.85 313.9h-6.4" stroke="#000" stroke-width="1.5" fill="none"/>
<path d="M106.25 504h3.2M412.85 504h-3.2M106.25 501.62h3.2M412.85 501.62h-3.2M106.25 485.53h3.2M412.85 485.53h-3.2M106.25 477.36h3.2M412.85 477.36h-3.2M106.25 471.56h3.2M412.85 471.56h-3.2M106.25 467.07h3.2M412.85 467.07h-3.2M106.25 463.39h3.2M412.85 463.39h-3.2M106.25 460.29h3.2M412.85 460.29h-3.2M106.25 457.6h3.2M412.85 457.6h-3.2M106.25 455.22h3.2M412.85 455.22h-3.2M106.25 439.13h3.2M412.85 439.13h-3.2M106.25 430.96h3.2M412.85 430.96h-3.2M106.25 425.16h3.2M412.85 425.16h-3.2M106.25 420.67h3.2M412.85 420.67h-3.2M106.25 416.99h3.2M412.85 416.99h-3.2M106.25 413.89h3.2M412.85 413.89h-3.2M106.25 411.2h3.2M412.85 411.2h-3.2M106.25 408.82h3.2M412.85 408.82h-3.2M106.25 392.73h3.2M412.85 392.73h-3.2M106.25 384.56h3.2M412.85 384.56h-3.2M106.25 378.76h3.2M412.85 378.76h-3.2M106.25 374.27h3.2M412.85 374.27h-3.2M106.25 370.59h3.2M412.85 370.59h-3.2M106.25 367.49h3.2M412.85 367.49h-3.2M106.25 364.8h3.2M412.85 364.8h-3.2M106.25 362.42h3.2M412.85 362.42h-3.2M106.25 346.33h3.2M412.85 346.33h-3.2M106.25 338.16h3.2M412.85 338.16h-3.2M106.25 332.36h3.2M412.85 332.36h-3.2M106.25 327.87h3.2M412.85 327.87h-3.2M106.25 324.19h3.2M412.85 324.19h-3.2M106.25 321.09h3.2M412.85 321.09h-3.2M106.25 318.4h3.2M412.85 318.4h-3.2M106.25 316.02h3.2M412.85 316.02h-3.2M106.25 299.93h3.2M412.85 299.93h-3.2M106.25 291.76h3.2M412.85 291.76h-3.2" stroke="#000" stroke-width="1.5" fill="none"/>
<text x="89.13" y="534.1" font-size="20" textLength="32.63" lengthAdjust="spacingAndGlyphs" stroke="#fff" stroke-width="0.16">0.0</text>
<text x="130.02" y="534.1" font-size="20" textLength="32.27" lengthAdjust="spacingAndGlyphs" stroke="#fff" stroke-width="0.16">0.2</text>
<text x="170.92" y="534.1" font-size="20" textLength="31.76" lengthAdjust="spacingAndGlyphs" stroke="#fff" stroke-width="0.16">0.4</text>
<text x="211.77" y="534.1" font-size="20" textLength="32.76" lengthAdjust="spacingAndGlyphs" stroke="#fff" stroke-width="0.16">0.6</text>
<text x="252.65" y="534.1" font-size="20" textLength="32.74" lengthAdjust="spacingAndGlyphs" stroke="#fff" stroke-width="0.16">0.8</text>
<clipPath id="k17"><rect x="294.78" y="518.48" width="12.54" height="12.99"/><rect x="300.23" y="531.17" width="2.44" height="3.93"/></clipPath>
<text x="294.78" y="534.1" font-size="20" textLength="12.54" lengthAdjust="spacingAndGlyphs" stroke="#fff" stroke-width="0.16" clip-path="url(#k17)">1</text>
<text x="307.32" y="534.1" font-size="20" textLength="18.81" lengthAdjust="spacingAndGlyphs" stroke="#fff" stroke-width="0.16">.0</text>
<clipPath id="k18"><rect x="335.7" y="518.48" width="12.3" height="12.99"/><rect x="341.05" y="531.17" width="2.4" height="3.93"/></clipPath>
<text x="335.7" y="534.1" font-size="20" textLength="12.3" lengthAdjust="spacingAndGlyphs" stroke="#fff" stroke-width="0.16" clip-path="url(#k18)">1</text>
<text x="348" y="534.1" font-size="20" textLength="18.44" lengthAdjust="spacingAndGlyphs" stroke="#fff" stroke-width="0.16">.2</text>
<clipPath id="k19"><rect x="376.62" y="518.48" width="12.09" height="12.99"/><rect x="381.87" y="531.17" width="2.36" height="3.93"/></clipPath>
<text x="376.62" y="534.1" font-size="20" textLength="12.09" lengthAdjust="spacingAndGlyphs" stroke="#fff" stroke-width="0.16" clip-path="url(#k19)">1</text>
<text x="388.71" y="534.1" font-size="20" textLength="18.14" lengthAdjust="spacingAndGlyphs" stroke="#fff" stroke-width="0.16">.4</text>
<clipPath id="k20"><rect x="36.01" y="306.27" width="12.68" height="12.99"/><rect x="41.52" y="318.97" width="2.47" height="3.93"/></clipPath>
<text x="36.01" y="321.9" font-size="20" textLength="12.68" lengthAdjust="spacingAndGlyphs" stroke="#fff" stroke-width="0.16" clip-path="url(#k20)">1</text>
<text x="48.68" y="321.9" font-size="20" textLength="50.71" lengthAdjust="spacingAndGlyphs" stroke="#fff" stroke-width="0.16">0000</text>
<clipPath id="k21"><rect x="48.71" y="352.68" width="12.67" height="12.99"/><rect x="54.21" y="365.37" width="2.47" height="3.93"/></clipPath>
<text x="48.71" y="368.3" font-size="20" textLength="12.67" lengthAdjust="spacingAndGlyphs" stroke="#fff" stroke-width="0.16" clip-path="url(#k21)">1</text>
<text x="61.38" y="368.3" font-size="20" textLength="38.01" lengthAdjust="spacingAndGlyphs" stroke="#fff" stroke-width="0.16">000</text>
<clipPath id="k22"><rect x="61.41" y="399.07" width="12.66" height="12.99"/><rect x="66.91" y="411.77" width="2.47" height="3.93"/></clipPath>
<text x="61.41" y="414.7" font-size="20" textLength="12.66" lengthAdjust="spacingAndGlyphs" stroke="#fff" stroke-width="0.16" clip-path="url(#k22)">1</text>
<text x="74.07" y="414.7" font-size="20" textLength="25.32" lengthAdjust="spacingAndGlyphs" stroke="#fff" stroke-width="0.16">00</text>
<clipPath id="k23"><rect x="74.11" y="445.48" width="12.64" height="12.99"/><rect x="79.61" y="458.17" width="2.46" height="3.93"/></clipPath>
<text x="74.11" y="461.1" font-size="20" textLength="12.64" lengthAdjust="spacingAndGlyphs" stroke="#fff" stroke-width="0.16" clip-path="url(#k23)">1</text>
<text x="86.75" y="461.1" font-size="20" textLength="12.64" lengthAdjust="spacingAndGlyphs" stroke="#fff" stroke-width="0.16">0</text>
<clipPath id="k24"><rect x="87.97" y="488.57" width="11.18" height="12.99"/><rect x="92.83" y="501.27" width="2.18" height="3.93"/></clipPath>
<text x="87.97" y="504.2" font-size="20" textLength="11.18" lengthAdjust="spacingAndGlyphs" stroke="#fff" stroke-width="0.16" clip-path="url(#k24)">1</text>
<text x="116.11" y="313.4" font-size="21.4" textLength="6.91" lengthAdjust="spacingAndGlyphs" stroke="#fff" stroke-width="0.16">(</text>
<text x="124.44" y="313.4" font-size="17.6" textLength="10.09" lengthAdjust="spacingAndGlyphs" stroke="#fff" stroke-width="0.16">c</text>
<text x="136.68" y="313.4" font-size="21.4" textLength="6.78" lengthAdjust="spacingAndGlyphs" stroke="#fff" stroke-width="0.16">)</text>
<text x="224.52" y="559" font-size="18.6" textLength="8.81" lengthAdjust="spacingAndGlyphs" stroke="#fff" stroke-width="0.16">&#x3f5;</text>
<line x1="236.35" y1="564" x2="248.25" y2="542.6" stroke="#000" stroke-width="1.5"/>
<text x="249.5" y="559" font-size="18" textLength="18.19" lengthAdjust="spacingAndGlyphs" stroke="#fff" stroke-width="0.16">m</text>
<text x="267.9" y="564.3" font-size="12.6" textLength="8.53" lengthAdjust="spacingAndGlyphs" stroke="#000" stroke-width="0.3">e</text>
<text x="276.02" y="559" font-size="18" textLength="10.9" lengthAdjust="spacingAndGlyphs" stroke="#fff" stroke-width="0.16">c</text>
<text x="287.39" y="549.6" font-size="9.8" textLength="6.23" lengthAdjust="spacingAndGlyphs" stroke="#000" stroke-width="0.5">2</text>
<g transform="translate(17.1 424.7) rotate(-90)">
<text x="-0.28" y="0" font-size="19.8" textLength="5.55" lengthAdjust="spacingAndGlyphs" stroke="#fff" stroke-width="0.16">f</text>
<text x="7.19" y="5.9" font-size="13.2" textLength="15.6" lengthAdjust="spacingAndGlyphs" stroke="#000" stroke-width="0.45">2D</text>
<line x1="24.2" y1="5" x2="36.2" y2="-16.1" stroke="#000" stroke-width="1.5"/>
<text x="38.13" y="0" font-size="19.8" textLength="5.34" lengthAdjust="spacingAndGlyphs" stroke="#fff" stroke-width="0.16">f</text>
<text x="45.21" y="5.9" font-size="13.2" textLength="8.38" lengthAdjust="spacingAndGlyphs" stroke="#000" stroke-width="0.3">0</text>
</g>
</g>
<g id="pd">
<rect x="523.5" y="291.3" width="306.6" height="212.65" fill="none" stroke="#000" stroke-width="1.5"/>
<path d="M532.8 503.95v-4.4M532.8 291.3v4.4M625.67 503.95v-4.4M625.67 291.3v4.4M718.55 503.95v-4.4M718.55 291.3v4.4M811.42 503.95v-4.4M811.42 291.3v4.4" stroke="#000" stroke-width="1.5" fill="none"/>
<path d="M551.38 503.95v-2.3M551.38 291.3v2.3M569.95 503.95v-2.3M569.95 291.3v2.3M588.52 503.95v-2.3M588.52 291.3v2.3M607.1 503.95v-2.3M607.1 291.3v2.3M644.25 503.95v-2.3M644.25 291.3v2.3M662.82 503.95v-2.3M662.82 291.3v2.3M681.4 503.95v-2.3M681.4 291.3v2.3M699.97 503.95v-2.3M699.97 291.3v2.3M737.12 503.95v-2.3M737.12 291.3v2.3M755.7 503.95v-2.3M755.7 291.3v2.3M774.27 503.95v-2.3M774.27 291.3v2.3M792.85 503.95v-2.3M792.85 291.3v2.3M830 503.95v-2.3M830 291.3v2.3" stroke="#000" stroke-width="1.5" fill="none"/>
<path d="M523.5 503.95h6.4M830.1 503.95h-6.4M523.5 444.95h6.4M830.1 444.95h-6.4M523.5 385.95h6.4M830.1 385.95h-6.4M523.5 326.95h6.4M830.1 326.95h-6.4" stroke="#000" stroke-width="1.5" fill="none"/>
<path d="M523.5 486.19h3.2M830.1 486.19h-3.2M523.5 475.8h3.2M830.1 475.8h-3.2M523.5 468.43h3.2M830.1 468.43h-3.2M523.5 462.71h3.2M830.1 462.71h-3.2M523.5 458.04h3.2M830.1 458.04h-3.2M523.5 454.09h3.2M830.1 454.09h-3.2M523.5 450.67h3.2M830.1 450.67h-3.2M523.5 447.65h3.2M830.1 447.65h-3.2M523.5 427.19h3.2M830.1 427.19h-3.2M523.5 416.8h3.2M830.1 416.8h-3.2M523.5 409.43h3.2M830.1 409.43h-3.2M523.5 403.71h3.2M830.1 403.71h-3.2M523.5 399.04h3.2M830.1 399.04h-3.2M523.5 395.09h3.2M830.1 395.09h-3.2M523.5 391.67h3.2M830.1 391.67h-3.2M523.5 388.65h3.2M830.1 388.65h-3.2M523.5 368.19h3.2M830.1 368.19h-3.2M523.5 357.8h3.2M830.1 357.8h-3.2M523.5 350.43h3.2M830.1 350.43h-3.2M523.5 344.71h3.2M830.1 344.71h-3.2M523.5 340.04h3.2M830.1 340.04h-3.2M523.5 336.09h3.2M830.1 336.09h-3.2M523.5 332.67h3.2M830.1 332.67h-3.2M523.5 329.65h3.2M830.1 329.65h-3.2M523.5 309.19h3.2M830.1 309.19h-3.2M523.5 298.8h3.2M830.1 298.8h-3.2M523.5 291.43h3.2M830.1 291.43h-3.2" stroke="#000" stroke-width="1.5" fill="none"/>
<text x="515.68" y="534.1" font-size="20" textLength="32.63" lengthAdjust="spacingAndGlyphs" stroke="#fff" stroke-width="0.16">0.0</text>
<text x="608.56" y="534.1" font-size="20" textLength="32.71" lengthAdjust="spacingAndGlyphs" stroke="#fff" stroke-width="0.16">0.5</text>
<clipPath id="k25"><rect x="702.68" y="518.48" width="12.54" height="12.99"/><rect x="708.13" y="531.17" width="2.44" height="3.93"/></clipPath>
<text x="702.68" y="534.1" font-size="20" textLength="12.54" lengthAdjust="spacingAndGlyphs" stroke="#fff" stroke-width="0.16" clip-path="url(#k25)">1</text>
<text x="715.22" y="534.1" font-size="20" textLength="18.81" lengthAdjust="spacingAndGlyphs" stroke="#fff" stroke-width="0.16">.0</text>
<clipPath id="k26"><rect x="795.55" y="518.48" width="12.57" height="12.99"/><rect x="801.01" y="531.17" width="2.45" height="3.93"/></clipPath>
<text x="795.55" y="534.1" font-size="20" textLength="12.57" lengthAdjust="spacingAndGlyphs" stroke="#fff" stroke-width="0.16" clip-path="url(#k26)">1</text>
<text x="808.12" y="534.1" font-size="20" textLength="18.85" lengthAdjust="spacingAndGlyphs" stroke="#fff" stroke-width="0.16">.5</text>
<clipPath id="k27"><rect x="453.31" y="319.32" width="12.68" height="12.99"/><rect x="458.82" y="332.02" width="2.47" height="3.93"/></clipPath>
<text x="453.31" y="334.95" font-size="20" textLength="12.68" lengthAdjust="spacingAndGlyphs" stroke="#fff" stroke-width="0.16" clip-path="url(#k27)">1</text>
<text x="465.98" y="334.95" font-size="20" textLength="50.71" lengthAdjust="spacingAndGlyphs" stroke="#fff" stroke-width="0.16">0000</text>
<clipPath id="k28"><rect x="466.01" y="378.32" width="12.67" height="12.99"/><rect x="471.51" y="391.02" width="2.47" height="3.93"/></clipPath>
<text x="466.01" y="393.95" font-size="20" textLength="12.67" lengthAdjust="spacingAndGlyphs" stroke="#fff" stroke-width="0.16" clip-path="url(#k28)">1</text>
<text x="478.68" y="393.95" font-size="20" textLength="38.01" lengthAdjust="spacingAndGlyphs" stroke="#fff" stroke-width="0.16">000</text>
<clipPath id="k29"><rect x="478.71" y="437.32" width="12.66" height="12.99"/><rect x="484.21" y="450.02" width="2.47" height="3.93"/></clipPath>
<text x="478.71" y="452.95" font-size="20" textLength="12.66" lengthAdjust="spacingAndGlyphs" stroke="#fff" stroke-width="0.16" clip-path="url(#k29)">1</text>
<text x="491.37" y="452.95" font-size="20" textLength="25.32" lengthAdjust="spacingAndGlyphs" stroke="#fff" stroke-width="0.16">00</text>
<clipPath id="k30"><rect x="491.41" y="489.27" width="12.64" height="12.99"/><rect x="496.91" y="501.97" width="2.46" height="3.93"/></clipPath>
<text x="491.41" y="504.9" font-size="20" textLength="12.64" lengthAdjust="spacingAndGlyphs" stroke="#fff" stroke-width="0.16" clip-path="url(#k30)">1</text>
<text x="504.05" y="504.9" font-size="20" textLength="12.64" lengthAdjust="spacingAndGlyphs" stroke="#fff" stroke-width="0.16">0</text>
<text x="534.61" y="313.4" font-size="21.4" textLength="6.91" lengthAdjust="spacingAndGlyphs" stroke="#fff" stroke-width="0.16">(</text>
<text x="542.99" y="313.4" font-size="17.6" textLength="10.76" lengthAdjust="spacingAndGlyphs" stroke="#fff" stroke-width="0.16">d</text>
<text x="555.18" y="313.4" font-size="21.4" textLength="6.78" lengthAdjust="spacingAndGlyphs" stroke="#fff" stroke-width="0.16">)</text>
<text x="666.41" y="559" font-size="19.8" textLength="10.26" lengthAdjust="spacingAndGlyphs" stroke="#fff" stroke-width="0.16">b</text>
<text x="678.37" y="564" font-size="13.2" textLength="8.41" lengthAdjust="spacingAndGlyphs" stroke="#000" stroke-width="0.15">g</text>
<g transform="translate(434.3 496.4) rotate(-90)">
<text x="-1.61" y="0" font-size="20" textLength="97.99" lengthAdjust="spacingAndGlyphs" stroke="#fff" stroke-width="0.16">Electrons,</text>
<text x="108.03" y="0" font-size="19" textLength="9.84" lengthAdjust="spacingAndGlyphs" stroke="#fff" stroke-width="0.16">&#x3f5;</text>
<polyline points="120.2,-12 132.2,-5.6 120.2,0.8" fill="none" stroke="#000" stroke-width="1.5"/>
<text x="144.65" y="0" font-size="20" textLength="24.93" lengthAdjust="spacingAndGlyphs" stroke="#fff" stroke-width="0.16">30</text>
<text x="178.91" y="0" font-size="20" textLength="10.48" lengthAdjust="spacingAndGlyphs" stroke="#fff" stroke-width="0.16">T</text>
<text x="189.32" y="5.8" font-size="13.2" textLength="9.66" lengthAdjust="spacingAndGlyphs" stroke="#000" stroke-width="0.2">0</text>
</g>
<path d="M527.3 335.7L532.8 330.2L538.3 335.7L532.8 341.2Z" fill="none" stroke="#2f972f" stroke-width="1" stroke-linejoin="miter"/>
<path d="M620.2 311.3L625.7 305.8L631.2 311.3L625.7 316.8Z" fill="none" stroke="#2f972f" stroke-width="1" stroke-linejoin="miter"/>
<path d="M713 332.2L718.5 326.7L724 332.2L718.5 337.7Z" fill="none" stroke="#2f972f" stroke-width="1" stroke-linejoin="miter"/>
<path d="M532.8 367.7L538.2 377.4L527.4 377.4Z" fill="none" stroke="#ff3838" stroke-width="1" stroke-linejoin="miter"/>
<path d="M625.7 351L631.1 360.7L620.3 360.7Z" fill="none" stroke="#ff3838" stroke-width="1" stroke-linejoin="miter"/>
<path d="M718.6 395.9L724 405.6L713.2 405.6Z" fill="none" stroke="#ff3838" stroke-width="1" stroke-linejoin="miter"/>
<rect x="532.5" y="445.2" width="65.3" height="52.7" fill="#fff" stroke="#222" stroke-width="0.9"/>
<path d="M547.3 461L552.9 455.4L558.5 461L552.9 466.6Z" fill="none" stroke="#008000" stroke-width="1.7" stroke-linejoin="miter"/>
<path d="M552.9 477.3L558.8 488L547 488Z" fill="none" stroke="#ff0000" stroke-width="1.7" stroke-linejoin="miter"/>
<text x="566.22" y="466.2" font-size="17.6" textLength="22.94" lengthAdjust="spacingAndGlyphs" stroke="#fff" stroke-width="0.16">3D</text>
<text x="565.99" y="487.6" font-size="17.6" textLength="23.18" lengthAdjust="spacingAndGlyphs" stroke="#fff" stroke-width="0.16">2D</text>
</g>
</svg></body></html>
